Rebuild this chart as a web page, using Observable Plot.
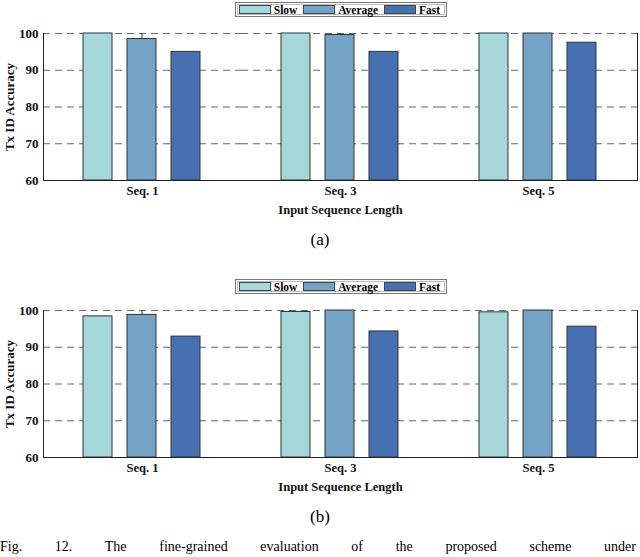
<!DOCTYPE html>
<html>
<head>
<meta charset="utf-8">
<script src="https://cdn.jsdelivr.net/npm/d3@7"></script>
<script src="https://cdn.jsdelivr.net/npm/@observablehq/plot@0.6"></script>
<style>
  html, body { margin: 0; padding: 0; background: #fff; }
  #page { position: relative; width: 640px; height: 557px; overflow: hidden; font-family: 'Liberation Serif', serif; }
  .legend { position: absolute; left: 235px; height: 15px; width: 212px; border: 1px solid #777; box-shadow: inset 0 0 0 1px #fff, inset 0 0 0 2px #bbb; display: flex; align-items: center; font-weight: bold; font-size: 11.5px; box-sizing: border-box; padding-left: 3px; }
  .legend .sw { width: 32px; height: 9px; border: 1px solid #444; box-sizing: border-box; margin-right: 3px; }
  .legend .lab { margin-right: 6px; }
  .panel { position: absolute; left: 0; }
  .sub { position: absolute; width: 640px; text-align: center; font-size: 17px; }
  .cap { position: absolute; left: 0; width: 636px; font-size: 14px; text-align: justify; text-align-last: justify; }
</style>
</head>
<body>
<div id="page"></div>
<script>
const seqs = ["Seq. 1", "Seq. 3", "Seq. 5"];
const speeds = ["Slow", "Average", "Fast"];
const colors = ["#a6d7da", "#74a3c8", "#4770b3"];
const yTicks = [60, 70, 80, 90, 100];
const gridTicks = [70, 80, 90, 100];

// Panel (a)
const slowA = [100, 100, 100];
const avgA = [98.5, 99.6, 100];
const fastA = [95.0, 95.0, 97.5];
const errAvgA = [1.5, 0.4, 0];

// Panel (b)
const slowB = [98.4, 99.6, 99.5];
const avgB = [98.8, 100, 100];
const fastB = [92.9, 94.3, 95.6];
const errAvgB = [1.2, 0, 0];

const FONT = "'Liberation Serif', 'Times New Roman', serif";

function rows(slow, avg, fast) {
  const out = [];
  seqs.forEach((s, i) => {
    out.push({seq: s, speed: "Slow", value: slow[i]});
    out.push({seq: s, speed: "Average", value: avg[i]});
    out.push({seq: s, speed: "Fast", value: fast[i]});
  });
  return out;
}
function errRows(avg, err) {
  return seqs.map((s, i) => ({seq: s, speed: "Average", lo: avg[i], hi: Math.min(100, avg[i] + err[i])})).filter(d => d.hi > d.lo);
}

function chart(data, errs) {
  return Plot.plot({
    width: 640, height: 198,
    marginTop: 11, marginBottom: 40, marginLeft: 42, marginRight: 2,
    style: {fontFamily: FONT, fontWeight: "bold", fontSize: "12.5px", color: "#111", background: "#fff"},
    fx: {domain: seqs, padding: 0},
    x: {domain: speeds, paddingInner: 0.333, paddingOuter: 0.874, axis: null},
    y: {domain: [60, 100]},
    color: {domain: speeds, range: colors},
    marks: [
      Plot.gridY(gridTicks, {stroke: "#666", strokeOpacity: 1, strokeDasharray: "7,5", strokeWidth: 1}),
      Plot.barY(data, {fx: "seq", x: "speed", y1: 60, y2: "value", fill: "speed", stroke: "#333", strokeWidth: 1}),
      Plot.ruleX(errs, {fx: "seq", x: "speed", y1: "lo", y2: "hi", stroke: "#333", strokeWidth: 1}),
      Plot.ruleY([60], {stroke: "#222", strokeWidth: 1.2}),
      Plot.frame({anchor: "left", facetAnchor: "left", stroke: "#222"}),
      Plot.frame({anchor: "right", facetAnchor: "right", stroke: "#222"}),
      Plot.axisY(yTicks, {tickSize: 0, tickPadding: 5, fontSize: 13, label: "Tx ID Accuracy", labelAnchor: "center", labelArrow: "none", labelOffset: 39}),
      Plot.axisFx({anchor: "bottom", tickSize: 0, tickPadding: 6, fontSize: 12.5, label: "Input Sequence Length", labelAnchor: "center", labelArrow: "none", labelOffset: 33})
    ]
  });
}

function legend(top) {
  const el = document.createElement("div");
  el.className = "legend";
  el.style.top = top + "px";
  speeds.forEach((s, i) => {
    const sw = document.createElement("span");
    sw.className = "sw";
    sw.style.background = colors[i];
    const lab = document.createElement("span");
    lab.className = "lab";
    lab.textContent = s;
    el.appendChild(sw);
    el.appendChild(lab);
  });
  return el;
}

const page = document.getElementById("page");
function addPanel(offset, data, errs, subLabel) {
  page.appendChild(legend(offset + 2));
  const p = document.createElement("div");
  p.className = "panel";
  p.style.top = (offset + 22) + "px";
  p.appendChild(chart(data, errs));
  page.appendChild(p);
  const sub = document.createElement("div");
  sub.className = "sub";
  sub.style.top = (offset + 230) + "px";
  sub.textContent = subLabel;
  page.appendChild(sub);
}
addPanel(0, rows(slowA, avgA, fastA), errRows(avgA, errAvgA), "(a)");
addPanel(277, rows(slowB, avgB, fastB), errRows(avgB, errAvgB), "(b)");

const cap = document.createElement("div");
cap.className = "cap";
cap.style.top = "539px";
cap.textContent = "Fig. 12. The fine-grained evaluation of the proposed scheme under";
page.appendChild(cap);
</script>
</body>
</html>
